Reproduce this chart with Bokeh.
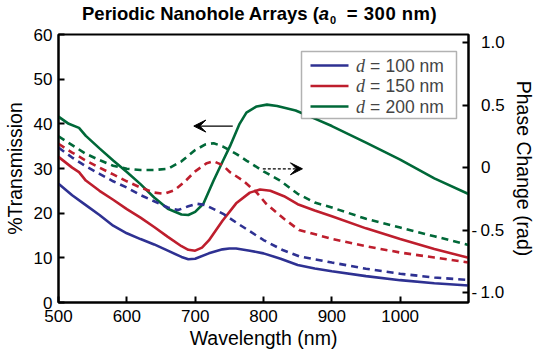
from bokeh.plotting import figure
from bokeh.layouts import column
from bokeh.models import (Range1d, LinearAxis, FixedTicker, CustomJSTickFormatter,
                          Arrow, VeeHead, Label, BoxAnnotation, Div)
from bokeh.embed import file_html
from bokeh.resources import INLINE

# ---------------- data ----------------
wl_b = [500, 520, 540, 560, 580, 600, 620, 640, 660, 680, 690, 700, 720, 740, 750, 760,
        780, 800, 825, 850, 875, 900, 950, 1000, 1050, 1100]
t_100 = [26.6, 24.0, 21.8, 19.6, 17.2, 15.5, 14.2, 13.0, 11.6, 10.2, 9.7, 9.8, 11.0, 11.9,
         12.1, 12.1, 11.6, 11.0, 9.8, 8.4, 7.6, 7.0, 5.9, 5.0, 4.3, 3.8]

wl_r = [500, 520, 530, 540, 560, 580, 600, 620, 640, 660, 680, 690, 700, 710, 720, 740,
        760, 780, 795, 810, 830, 850, 875, 900, 950, 1000, 1050, 1100]
t_150 = [32.6, 30.2, 29.2, 27.3, 25.0, 23.0, 20.9, 19.0, 16.9, 14.7, 12.6, 11.8, 11.6, 12.3,
         13.9, 18.3, 22.2, 24.6, 25.3, 25.0, 23.8, 22.0, 20.6, 19.3, 16.6, 14.2, 12.0, 10.0]

wl_g = [500, 515, 530, 540, 560, 580, 600, 620, 640, 660, 680, 690, 700, 712, 727, 740,
        751, 765, 775, 790, 805, 820, 847, 870, 900, 950, 1000, 1050, 1100]
t_200 = [41.6, 40.0, 39.1, 37.3, 34.5, 31.8, 29.2, 26.5, 23.5, 21.0, 19.7, 19.6, 20.3, 22.1,
         27.3, 31.5, 35.0, 40.0, 42.5, 43.9, 44.3, 44.0, 43.0, 41.5, 39.5, 35.8, 32.0, 27.8, 24.3]

wl_pg = [500, 520, 540, 560, 580, 600, 620, 640, 660, 680, 700, 715, 727, 740, 760, 775,
         800, 823, 850, 875, 900, 950, 1000, 1050, 1100]
ph_200 = [0.25, 0.18, 0.11, 0.06, 0.015, -0.01, -0.02, -0.02, -0.01, 0.05, 0.14, 0.185, 0.195,
          0.17, 0.11, 0.056, -0.03, -0.10, -0.21, -0.28, -0.32, -0.41, -0.48, -0.55, -0.62]

wl_pr = [500, 520, 540, 560, 580, 600, 620, 640, 655, 670, 684, 700, 717, 727, 740, 751,
         770, 790, 804, 830, 852, 900, 950, 1000, 1050, 1100]
ph_150 = [0.19, 0.12, 0.056, 0.0, -0.055, -0.11, -0.16, -0.20, -0.21, -0.18, -0.117, -0.03,
          0.035, 0.05, 0.02, -0.037, -0.104, -0.20, -0.29, -0.41, -0.50, -0.57, -0.63, -0.68,
          -0.72, -0.76]

wl_pb = [500, 520, 540, 560, 580, 600, 620, 640, 660, 675, 690, 703, 715, 730, 741, 760,
         780, 800, 828, 852, 900, 950, 1000, 1050, 1100]
ph_100 = [0.16, 0.08, 0.01, -0.05, -0.11, -0.16, -0.22, -0.27, -0.32, -0.34, -0.31, -0.29,
          -0.30, -0.34, -0.37, -0.44, -0.51, -0.58, -0.66, -0.71, -0.76, -0.81, -0.85, -0.88, -0.90]

x_ticks = [500, 600, 700, 800, 900, 1000]
y_ticks = [0, 10, 20, 30, 40, 50, 60]
phase_ticks = [-1.0, -0.5, 0.0, 0.5, 1.0]

legend_var = ["d", "d", "d"]
legend_eq = ["=", "=", "="]
legend_val = ["100 nm", "150 nm", "200 nm"]
colors = ["#2e3192", "#be1e2d", "#006838"]

title_parts = ["Periodic Nanohole Arrays (", "a", "0", " = 300 nm)"]

# arrows (data coordinates of the annotation arrows)
arrow_left = dict(x0=755, x1=698, y=39.5)
arrow_right = dict(x0=799, x1=857, y=-0.01)

FONT = "Liberation Sans"

# ---------------- title strip (HTML text) ----------------
TH = 24
title_html = (
    "<div style=\"font-family:'Liberation Sans',Arial,sans-serif;font-weight:bold;"
    "font-size:18.5px;line-height:23px;padding-top:1.5px;padding-left:82px;"
    "white-space:nowrap;color:black;margin:0\">"
    + title_parts[0]
    + "<i>" + title_parts[1] + "</i>"
    + "<sub style=\"font-size:11px;line-height:0;vertical-align:-4px;"
      "margin-left:1px;margin-right:5px\">" + title_parts[2] + "</sub>"
    + "<span style=\"letter-spacing:0.5px\">" + title_parts[3] + "</span></div>"
)
t = Div(text=title_html, width=537, height=TH, margin=(0, 0, 0, 0))

# ---------------- main plot ----------------
p = figure(width=537, height=355 - TH, x_range=Range1d(500, 1100), y_range=Range1d(0, 60),
           output_backend="svg", toolbar_location=None, title=None,
           min_border_left=56, min_border_right=65, min_border_top=34 - TH,
           min_border_bottom=53)
p.extra_y_ranges = {"phase": Range1d(-1.08, 1.065)}
p.grid.visible = False
p.outline_line_color = "black"
p.outline_line_width = 2
p.background_fill_color = "white"
p.border_fill_color = "white"

LW = 2.6
p.line(wl_b, t_100, color=colors[0], line_width=LW)
p.line(wl_r, t_150, color=colors[1], line_width=LW)
p.line(wl_g, t_200, color=colors[2], line_width=LW)
p.line(wl_pb, ph_100, color=colors[0], line_width=LW, line_dash="7 5", y_range_name="phase")
p.line(wl_pr, ph_150, color=colors[1], line_width=LW, line_dash="7 5", y_range_name="phase")
p.line(wl_pg, ph_200, color=colors[2], line_width=LW, line_dash="7 5", y_range_name="phase")

def style_axis(ax):
    ax.major_tick_in = 6
    ax.major_tick_out = 0
    ax.minor_tick_in = 0
    ax.minor_tick_out = 0
    ax.axis_line_width = 2
    ax.major_tick_line_width = 2
    ax.major_label_text_font = FONT
    ax.major_label_text_font_size = "17px"
    ax.major_label_text_color = "black"
    ax.axis_label_text_font = FONT
    ax.axis_label_text_font_size = "19.5px"
    ax.axis_label_text_font_style = "normal"
    ax.axis_label_text_color = "black"

xa = p.xaxis[0]
style_axis(xa)
xa.ticker = FixedTicker(ticks=x_ticks)
xa.axis_label = "Wavelength (nm)"
xa.major_label_standoff = 7
xa.axis_label_standoff = 2

ya = p.yaxis[0]
style_axis(ya)
ya.ticker = FixedTicker(ticks=y_ticks)
ya.axis_label = "%Transmission"
ya.major_label_standoff = 6
ya.axis_label_standoff = 5

ra = LinearAxis(y_range_name="phase")
style_axis(ra)
ra.ticker = FixedTicker(ticks=phase_ticks)
# numbers line up after the sign: positives get a figure space where the sign would be
ra.formatter = CustomJSTickFormatter(code="""
    if (Math.abs(tick) < 1e-9) return '\\u2007' + '0';
    const s = Math.abs(tick).toFixed(1);
    return (tick < 0 ? '-\\u2009' : '\\u2007') + s;
""")
ra.axis_label = "Phase Change (rad)"
ra.major_label_standoff = 3
ra.axis_label_standoff = 5
p.add_layout(ra, "right")

# arrows
p.add_layout(Arrow(end=VeeHead(size=12, fill_color="black", line_color="black"),
                   x_start=arrow_left["x0"], y_start=arrow_left["y"],
                   x_end=arrow_left["x1"], y_end=arrow_left["y"],
                   line_color="black", line_width=1.3))
p.add_layout(Arrow(end=VeeHead(size=12, fill_color="black", line_color="black"),
                   x_start=arrow_right["x0"], y_start=arrow_right["y"],
                   x_end=arrow_right["x1"], y_end=arrow_right["y"],
                   line_color="black", line_width=1.3, line_dash="3 2",
                   y_range_name="phase"))

# legend (manual, canvas units of the main plot)
OY = TH
p.add_layout(BoxAnnotation(left=301, right=456, top=51 - OY, bottom=118 - OY,
                           left_units="canvas", right_units="canvas",
                           top_units="canvas", bottom_units="canvas",
                           fill_color="white", fill_alpha=1.0,
                           line_color="black", line_width=1.5))
rows_y = [65 - OY, 85.5 - OY, 106 - OY]
for i in range(3):
    p.add_layout(Arrow(start=None, end=None, x_start=310, x_end=348,
                       y_start=rows_y[i], y_end=rows_y[i],
                       start_units="canvas", end_units="canvas",
                       line_color=colors[i], line_width=LW))
    p.add_layout(Label(x=355.5, y=rows_y[i], x_units="canvas", y_units="canvas",
                       text=legend_var[i], text_font="Liberation Serif",
                       text_font_style="italic", text_font_size="18px",
                       text_baseline="middle", text_align="left"))
    p.add_layout(Label(x=369.5, y=rows_y[i], x_units="canvas", y_units="canvas",
                       text=legend_eq[i], text_font=FONT, text_font_size="17.5px",
                       text_baseline="middle", text_align="left"))
    p.add_layout(Label(x=385, y=rows_y[i], x_units="canvas", y_units="canvas",
                       text=legend_val[i], text_font=FONT, text_font_size="17.5px",
                       text_baseline="middle", text_align="left"))

open("out.html", "w").write(file_html(column(t, p), INLINE))
